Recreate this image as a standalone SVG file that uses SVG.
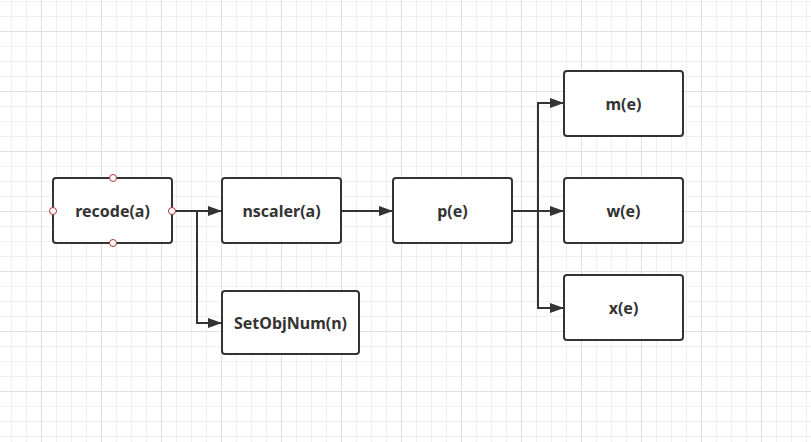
<svg xmlns="http://www.w3.org/2000/svg" width="811" height="442" viewBox="0 0 811 442">
<style>
.box{fill:#fff;stroke:#333;stroke-width:2}
.lbl{font-family:"Noto Sans","Open Sans",sans-serif;font-weight:bold;font-size:16px;fill:#333;text-anchor:middle;dominant-baseline:central}
.edge{fill:none;stroke:#333;stroke-width:2}
.port{fill:#fff;stroke:#a33;stroke-width:1}
</style>
<defs>
<pattern id="minor" patternUnits="userSpaceOnUse" x="11" y="1" width="15" height="15">
<path d="M0.5 0V15M0 0.5H15" stroke="#efefef" stroke-width="1" fill="none"/>
</pattern>
<pattern id="major" patternUnits="userSpaceOnUse" x="41" y="31" width="60" height="60">
<path d="M0.5 0V60M0 0.5H60" stroke="#e0e0e0" stroke-width="1" fill="none"/>
</pattern>
<marker id="arr" markerWidth="14" markerHeight="10" refX="13" refY="5" orient="auto" markerUnits="userSpaceOnUse">
<path d="M0 0L14 5L0 10Z" fill="#333"/>
</marker>
</defs>
<rect width="811" height="442" fill="#fff"/>
<rect width="811" height="442" fill="url(#minor)"/>
<rect width="811" height="442" fill="url(#major)"/>
<g id="connectors">
<path class="edge" d="M172 211H197V323H221" marker-end="url(#arr)"/>
<path class="edge" d="M197 211H221" marker-end="url(#arr)"/>
<path class="edge" d="M341 211H392" marker-end="url(#arr)"/>
<path class="edge" d="M512 211H563" marker-end="url(#arr)"/>
<path class="edge" d="M538 211V103H563" marker-end="url(#arr)"/>
<path class="edge" d="M538 211V308H563" marker-end="url(#arr)"/>
</g>
<g id="recode">
<rect class="box" x="53" y="178" width="119" height="65" rx="3"/>
<text class="lbl" x="112.5" y="210.5">recode(a)</text>
<circle class="port" cx="113" cy="178" r="3.5"/>
<circle class="port" cx="113" cy="243" r="3.5"/>
<circle class="port" cx="53" cy="211" r="3.5"/>
<circle class="port" cx="172" cy="211" r="3.5"/>
</g>
<g id="nscaler">
<rect class="box" x="222" y="178" width="119" height="65" rx="3"/>
<text class="lbl" x="281.5" y="210.5">nscaler(a)</text>
</g>
<g id="setobjnum">
<rect class="box" x="222" y="291" width="137" height="63" rx="3"/>
<text class="lbl" x="290.5" y="322.5">SetObjNum(n)</text>
</g>
<g id="p">
<rect class="box" x="393" y="178" width="119" height="65" rx="3"/>
<text class="lbl" x="452.5" y="210.5">p(e)</text>
</g>
<g id="m">
<rect class="box" x="564" y="71" width="119" height="65" rx="3"/>
<text class="lbl" x="623.5" y="103.5">m(e)</text>
</g>
<g id="w">
<rect class="box" x="564" y="178" width="119" height="65" rx="3"/>
<text class="lbl" x="623.5" y="210.5">w(e)</text>
</g>
<g id="x">
<rect class="box" x="564" y="275" width="119" height="65" rx="3"/>
<text class="lbl" x="623.5" y="307.5">x(e)</text>
</g>
</svg>
